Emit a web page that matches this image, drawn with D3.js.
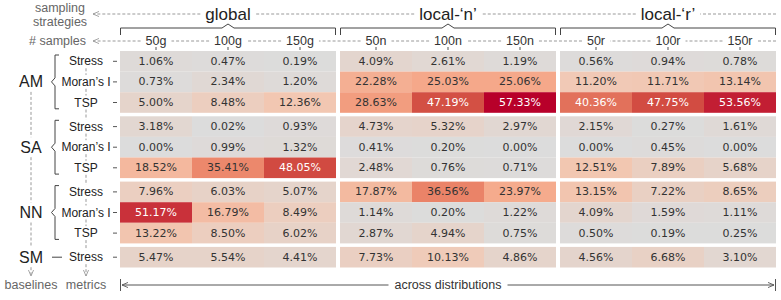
<!DOCTYPE html>
<html><head><meta charset="utf-8">
<script src="https://cdn.jsdelivr.net/npm/d3@7"></script>
<style>
html,body{margin:0;padding:0;background:#fff;}
svg{display:block;}
</style></head>
<body>
<svg id="chart" width="781" height="300"></svg>
<script>
// ---------- data ----------
const strategies = ["global", "local-\u2018n\u2019", "local-\u2018r\u2019"];
const sampleLabels = ["50g","100g","150g","50n","100n","150n","50r","100r","150r"];
const baselines = ["AM","SA","NN","SM"];
const metricsByBaseline = [["Stress","Moran\u2019s I","TSP"],["Stress","Moran\u2019s I","TSP"],["Stress","Moran\u2019s I","TSP"],["Stress"]];

const AM_Stress = [1.06,0.47,0.19, 4.09,2.61,1.19, 0.56,0.94,0.78];
const AM_Moran  = [0.73,2.34,1.20, 22.28,25.03,25.06, 11.20,11.71,13.14];
const AM_TSP    = [5.00,8.48,12.36, 28.63,47.19,57.33, 40.36,47.75,53.56];
const SA_Stress = [3.18,0.02,0.93, 4.73,5.32,2.97, 2.15,0.27,1.61];
const SA_Moran  = [0.00,0.99,1.32, 0.41,0.20,0.00, 0.00,0.45,0.00];
const SA_TSP    = [18.52,35.41,48.05, 2.48,0.76,0.71, 12.51,7.89,5.68];
const NN_Stress = [7.96,6.03,5.07, 17.87,36.56,23.97, 13.15,7.22,8.65];
const NN_Moran  = [51.17,16.79,8.49, 1.14,0.20,1.22, 4.09,1.59,1.11];
const NN_TSP    = [13.22,8.50,6.02, 2.87,4.94,0.75, 0.50,0.19,0.25];
const SM_Stress = [5.47,5.54,4.41, 7.73,10.13,4.86, 4.56,6.68,3.10];

const valuesByBaseline = [[AM_Stress,AM_Moran,AM_TSP],[SA_Stress,SA_Moran,SA_TSP],[NN_Stress,NN_Moran,NN_TSP],[SM_Stress]];

// ---------- layout ----------
const svg = d3.select("#chart");
const X0 = 120, X1 = 776, GAPX = 4;
const Y0 = 51, Y1 = 267.5, GAPY = 3.5;
const labelFont = "'Liberation Sans', Arial, sans-serif";
const cellFont = "'DejaVu Sans', sans-serif";

const defs = svg.append("defs");
function marker(id, color){
  defs.append("marker").attr("id", id).attr("viewBox","0 -4 8 8")
    .attr("refX",7).attr("refY",0).attr("markerWidth",7).attr("markerHeight",7)
    .attr("orient","auto-start-reverse").attr("markerUnits","userSpaceOnUse")
    .append("path").attr("d","M0,-3L7,0L0,3").attr("fill","none").attr("stroke",color).attr("stroke-width",1);
}
marker("arrG","#999");
marker("arrD","#555");

const groupScale = d3.scaleBand().domain(strategies).range([X0, X1]).paddingInner(GAPX/((X1-X0+GAPX)/3)).paddingOuter(0);
const colScale = d3.scaleBand().domain([0,1,2]).range([0, groupScale.bandwidth()]);
const colX = i => groupScale(strategies[Math.floor(i/3)]) + colScale(i%3);
const colW = colScale.bandwidth();

const rows = [];
baselines.forEach((b,bi)=>metricsByBaseline[bi].forEach((m,mi)=>rows.push({b,bi,m,mi,vals:valuesByBaseline[bi][mi]})));
const rowKeys = rows.map((r,i)=>i);
const rowBand = d3.scaleBand().domain(rowKeys).range([Y0, Y1 - GAPY*(baselines.length-1)]);
const rowY = i => rowBand(i) + rows[i].bi*GAPY;
const rowH = rowBand.bandwidth();

const color = d3.scaleLinear()
  .domain([0, 12, 25, 35, 47, 57.33])
  .range(["#dcdcdc","#f2c8b3","#f5a88a","#ed8a6d","#d45244","#b8002a"])
  .interpolate(d3.interpolateRgb).clamp(true);

// ---------- cells ----------
const cells = [];
rows.forEach((r,ri)=>r.vals.forEach((v,ci)=>cells.push({ri,ci,v})));
const g = svg.append("g");
g.selectAll("rect").data(cells).join("rect")
  .attr("x", d=>colX(d.ci)).attr("y", d=>rowY(d.ri))
  .attr("width", colW).attr("height", rowH)
  .attr("fill", d=>color(d.v));
g.selectAll("text").data(cells).join("text")
  .attr("x", d=>colX(d.ci)+colW/2).attr("y", d=>rowY(d.ri)+rowH/2)
  .attr("text-anchor","middle").attr("dominant-baseline","central")
  .attr("font-family", cellFont).attr("font-size", 11)
  .attr("fill", d=> d.v > 40 ? "#ffffff" : "#333")
  .text(d=>d.v.toFixed(2)+"%");

// ---------- row ticks + metric labels ----------
const METX = 86, BASEX = 31;
rows.forEach((r,ri)=>{
  const cy = rowY(ri)+rowH/2;
  svg.append("line").attr("x1",113).attr("x2",117).attr("y1",cy).attr("y2",cy).attr("stroke","#555");
  svg.append("text").attr("x",METX).attr("y",cy).attr("text-anchor","middle").attr("dominant-baseline","central")
    .attr("font-family",labelFont).attr("font-size",12).attr("fill","#222").text(r.m);
});
// metrics dashed vertical segments
for(let ri=0; ri<rows.length-1; ri++){
  const a = rowY(ri)+rowH/2+7, b = rowY(ri+1)+rowH/2-7;
  svg.append("line").attr("x1",METX).attr("x2",METX).attr("y1",a).attr("y2",b)
    .attr("stroke","#999").attr("stroke-dasharray","3,2");
}
{
  const last = rows.length-1;
  svg.append("line").attr("x1",METX).attr("x2",METX).attr("y1",rowY(last)+rowH/2+7).attr("y2",276)
    .attr("stroke","#999").attr("stroke-dasharray","3,2").attr("marker-end","url(#arrG)");
}

// ---------- baseline labels, braces ----------
const blockCenters = [];
baselines.forEach((b,bi)=>{
  const idx = rows.map((r,i)=>i).filter(i=>rows[i].bi===bi);
  const top = rowY(idx[0]), bot = rowY(idx[idx.length-1])+rowH;
  const cy = (top+bot)/2;
  blockCenters.push(cy);
  svg.append("text").attr("x",BASEX).attr("y",cy).attr("text-anchor","middle").attr("dominant-baseline","central")
    .attr("font-family",labelFont).attr("font-size",16).attr("fill","#222").text(b);
  if(idx.length>1){
    const t = top+4, bb = bot-4, x = 55, xr = 59;
    svg.append("path").attr("d",`M${xr},${t}H${x}V${cy-4}L${x-3.5},${cy}L${x},${cy+4}V${bb}H${xr}`)
      .attr("fill","none").attr("stroke","#444").attr("stroke-width",1);
  } else {
    svg.append("line").attr("x1",52).attr("x2",62).attr("y1",cy).attr("y2",cy).attr("stroke","#444");
  }
});
for(let bi=0; bi<baselines.length-1; bi++){
  svg.append("line").attr("x1",BASEX).attr("x2",BASEX).attr("y1",blockCenters[bi]+10).attr("y2",blockCenters[bi+1]-10)
    .attr("stroke","#999").attr("stroke-dasharray","3,2");
}
svg.append("line").attr("x1",BASEX).attr("x2",BASEX).attr("y1",blockCenters[baselines.length-1]+10).attr("y2",276)
  .attr("stroke","#999").attr("stroke-dasharray","3,2").attr("marker-end","url(#arrG)");

svg.append("text").attr("x",BASEX).attr("y",285).attr("text-anchor","middle").attr("dominant-baseline","central")
  .attr("font-family",labelFont).attr("font-size",12.5).attr("fill","#666").text("baselines");
svg.append("text").attr("x",METX).attr("y",285).attr("text-anchor","middle").attr("dominant-baseline","central")
  .attr("font-family",labelFont).attr("font-size",12.5).attr("fill","#666").text("metrics");

// ---------- header: samples ----------
const SAMY = 41;
svg.append("text").attr("x",86).attr("y",SAMY).attr("text-anchor","end").attr("dominant-baseline","central")
  .attr("font-family",labelFont).attr("font-size",12.5).attr("fill","#666").text("# samples");
const sampleText = svg.append("g").selectAll("text").data(sampleLabels).join("text")
  .attr("x",(d,i)=>colX(i)+colW/2).attr("y",SAMY).attr("text-anchor","middle").attr("dominant-baseline","central")
  .attr("font-family",labelFont).attr("font-size",12.5).attr("fill","#333").text(d=>d);
sampleLabels.forEach((d,i)=>{
  const cx = colX(i)+colW/2;
  svg.append("line").attr("x1",cx).attr("x2",cx).attr("y1",47).attr("y2",50).attr("stroke","#555");
});
function dashedThrough(y, startX, endX, boxes, arrow){
  const segs = [];
  let cur = startX;
  boxes.forEach(bx=>{ segs.push([cur, bx[0]-5]); cur = bx[1]+5; });
  segs.push([cur, endX]);
  segs.forEach((s,k)=>{
    const ln = svg.append("line").attr("x1",s[1]).attr("x2",s[0]).attr("y1",y).attr("y2",y)
      .attr("stroke","#999").attr("stroke-dasharray","3,2");
    if(k===0 && arrow) ln.attr("marker-end","url(#arrG)");
  });
}
{
  const boxes = [];
  sampleText.each(function(){ const bb=this.getBBox(); boxes.push([bb.x, bb.x+bb.width]); });
  dashedThrough(SAMY, 93, X1, boxes, true);
}

// ---------- header: strategies ----------
const STRY = 14;
svg.append("text").attr("x",60).attr("y",8).attr("text-anchor","middle").attr("dominant-baseline","central")
  .attr("font-family",labelFont).attr("font-size",12.5).attr("fill","#666").text("sampling");
svg.append("text").attr("x",60).attr("y",22).attr("text-anchor","middle").attr("dominant-baseline","central")
  .attr("font-family",labelFont).attr("font-size",12.5).attr("fill","#666").text("strategies");
const stratText = svg.append("g").selectAll("text").data(strategies).join("text")
  .attr("x",d=>groupScale(d)+groupScale.bandwidth()/2).attr("y",STRY).attr("text-anchor","middle").attr("dominant-baseline","central")
  .attr("font-family",labelFont).attr("font-size",17).attr("fill","#222").text(d=>d);
{
  const boxes = [];
  stratText.each(function(){ const bb=this.getBBox(); boxes.push([bb.x, bb.x+bb.width]); });
  dashedThrough(STRY, 93, X1, boxes, true);
}
strategies.forEach(s=>{
  const l = groupScale(s)+0.5, r = groupScale(s)+groupScale.bandwidth()-0.5, c = (l+r)/2;
  svg.append("path").attr("d",`M${l},35V28H${c-6}L${c},24L${c+6},28H${r}V35`)
    .attr("fill","none").attr("stroke","#444").attr("stroke-width",1);
});

// ---------- bottom: across distributions ----------
const BOTY = 285;
const acr = svg.append("text").attr("x",(X0+X1)/2).attr("y",BOTY).attr("text-anchor","middle").attr("dominant-baseline","central")
  .attr("font-family",labelFont).attr("font-size",12.5).attr("fill","#333").text("across distributions");
const abb = acr.node().getBBox();
svg.append("line").attr("x1",X0+0.5).attr("x2",X0+0.5).attr("y1",BOTY-6).attr("y2",BOTY+6).attr("stroke","#555");
svg.append("line").attr("x1",X1-0.5).attr("x2",X1-0.5).attr("y1",BOTY-6).attr("y2",BOTY+6).attr("stroke","#555");
svg.append("line").attr("x1",abb.x-6).attr("x2",X0+2).attr("y1",BOTY).attr("y2",BOTY)
  .attr("stroke","#555").attr("marker-end","url(#arrD)");
svg.append("line").attr("x1",abb.x+abb.width+6).attr("x2",X1-2).attr("y1",BOTY).attr("y2",BOTY)
  .attr("stroke","#555").attr("marker-end","url(#arrD)");
</script>
</body></html>
